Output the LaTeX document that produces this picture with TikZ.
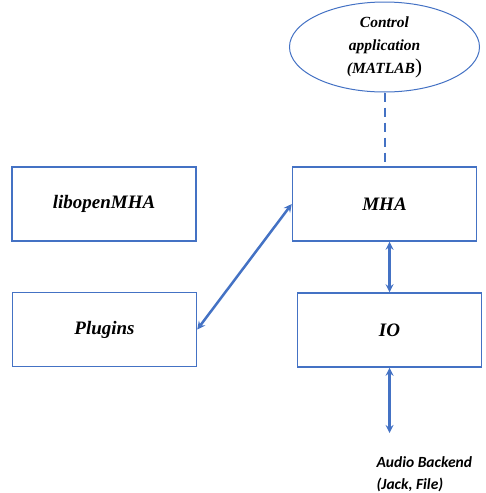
\documentclass[tikz,border=0pt]{standalone}
\usepackage{fontspec}
\setmainfont{Liberation Serif}
\newfontfamily\calib{Carlito}
\usepackage{xcolor}
\usetikzlibrary{arrows,shapes.geometric,positioning}
\definecolor{officeblue}{HTML}{4472C4}
\tikzstyle{block} = [rectangle, draw=officeblue, line width=1.5pt,
  minimum width=184pt, minimum height=74pt,
  font=\fontsize{19}{22}\selectfont\bfseries\itshape]
\tikzstyle{arrow} = [line width=2.5pt, officeblue, <->, >=stealth]

\begin{document}
\begin{tikzpicture}
    [x=1pt,y=-1pt]
    \useasboundingbox (0,0) rectangle (485,493);
    \node[block] (lib) at (104,204) {libopenMHA};
    \node[block] (plug) at (104.5,329.5) {Plugins};
    \node[block] (mha) at (384.5,204) {MHA};
    \node[block] (io) at (389.5,330) {IO};
    \node[ellipse, draw=officeblue, line width=1pt, minimum width=190pt,
      minimum height=90pt, inner sep=0pt, align=center,
      font=\fontsize{15.5}{23}\selectfont\bfseries\itshape]
      (ctrl) at (384.5,47) {Control\\application\\(MATLAB{\normalfont\upshape\fontsize{21}{23}\selectfont)}};
    \node[anchor=west, align=left,
      font=\calib\fontsize{15.5}{22}\selectfont\bfseries\itshape]
      (audio) at (373,474) {Audio Backend\\(Jack, File)};
    \coordinate (be) at (389.5,433);
    % connectors
    \draw[officeblue, line width=2pt, dashed, dash pattern=on 9pt off 6pt]
      (ctrl.south) -- (mha.north);
    \draw[arrow] (plug.east) -- (mha.west);
    \draw[arrow] (io.north) -- (io.north |- mha.south);
    \draw[arrow] (io.south) -- (be);
\end{tikzpicture}
\end{document}
